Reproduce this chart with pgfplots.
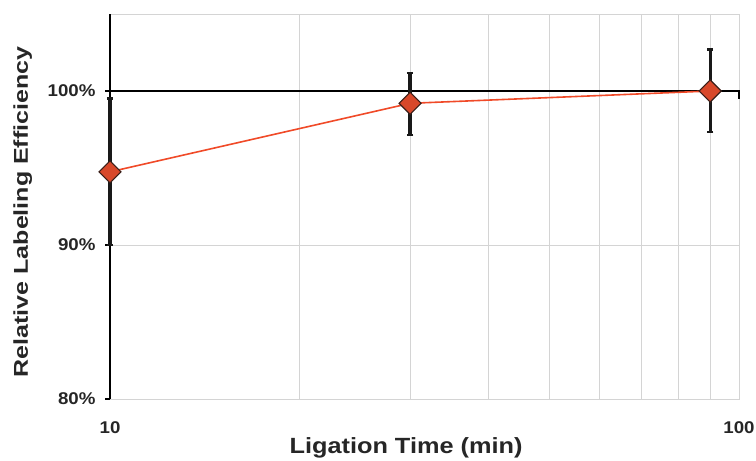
\documentclass[border=0pt]{standalone}
\usepackage{fontspec}
\setmainfont{Liberation Sans}
\newfontfamily\tickfont{Liberation Sans}[FakeStretch=1.1]
\newfontfamily\ylabfont{Liberation Sans}[FakeStretch=1.25]
\newfontfamily\xlabfont{Liberation Sans}[FakeStretch=1.15]
\usepackage{pgfplots}
\pgfplotsset{compat=1.18}
\definecolor{lineorange}{HTML}{F04A28}
\definecolor{markfill}{HTML}{D8482A}
\definecolor{markedge}{HTML}{3A1E18}
\definecolor{gridgray}{HTML}{D4D4D4}
\begin{document}
\begin{tikzpicture}
\useasboundingbox (-110bp,-62bp) rectangle (646bp,399bp);
\begin{axis}[
  scale only axis,
  width=629bp, height=385bp,
  xmode=log,
  xmin=10, xmax=100,
  ymin=80, ymax=105,
  xtick={10,100},
  xticklabels={10,100},
  minor xtick={20,30,40,50,60,70,80,90},
  ytick={80,90,100},
  yticklabels={80\%,90\%,100\%},
  /pgf/number format/assume math mode=true,
  grid=both,
  major grid style={gridgray, line width=0.6bp},
  minor grid style={gridgray, line width=0.6bp},
  axis line style={gridgray, line width=0.8bp},
  xtick style={draw=none},
  minor tick length=0bp,
  ytick pos=left,
  ytick style={black, line width=1.2bp},
  tick align=outside,
  major tick length=5bp,
  ticklabel style={font=\tickfont\bfseries\fontsize{17bp}{20bp}\selectfont, text=black!85},
  xticklabel style={yshift=-14bp},
  yticklabel style={xshift=-6bp},
  xlabel={Ligation Time (min)},
  ylabel={Relative Labeling Efficiency},
  xlabel style={font=\xlabfont\bfseries\fontsize{22bp}{26bp}\selectfont, text=black!85, at={(axis description cs:0.4706,-0.1403)}, anchor=base},
  ylabel style={font=\ylabfont\bfseries\fontsize{20bp}{24bp}\selectfont, text=black!85, at={(axis description cs:-0.1304,0.486)}, anchor=base},
  clip=false,
]
\draw[black, line width=1.3bp] (rel axis cs:0,0) -- (rel axis cs:0,1);
\addplot[black, line width=1.5bp, mark=none] coordinates {(10,100) (100,100) (100,99.45)};
\addplot[
  lineorange, line width=1.6bp,
  mark=square*, mark size=7.8bp,
  mark options={rotate=45, fill=markfill, draw=markedge, line width=1.1bp},
  error bars/.cd,
    y dir=both, y explicit,
    error bar style={draw=black!90, line width=3.4bp},
    error mark options={draw=black!90, line width=2.4bp, mark size=3.2bp, rotate=90},
] coordinates {
  (10,94.75) += (0,4.75) -= (0,4.75)
  (30,99.2) += (0,1.95) -= (0,2.05)
  (90,100.0) += (0,2.7) -= (0,2.65)
};
\end{axis}
\end{tikzpicture}
\end{document}
